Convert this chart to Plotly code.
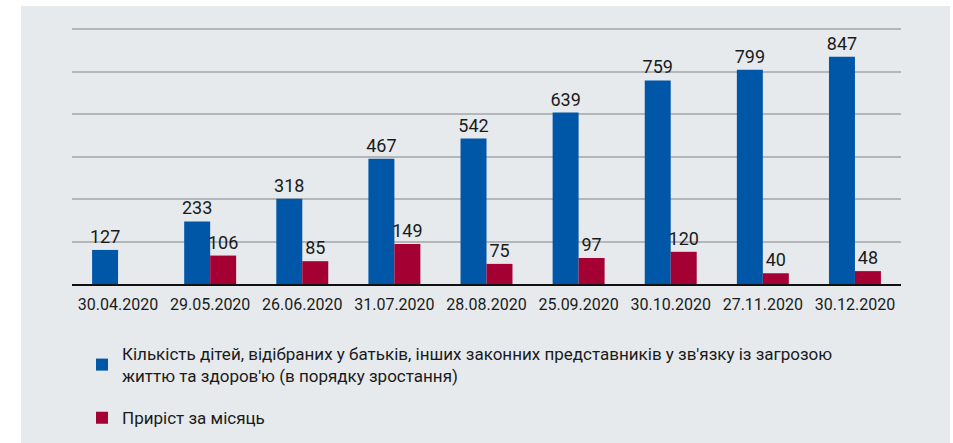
import plotly.graph_objects as go

categories = ["30.04.2020", "29.05.2020", "26.06.2020", "31.07.2020", "28.08.2020",
              "25.09.2020", "30.10.2020", "27.11.2020", "30.12.2020"]
total_children = [127, 233, 318, 467, 542, 639, 759, 799, 847]
monthly_growth = [None, 106, 85, 149, 75, 97, 120, 40, 48]

name_total = "Кількість дітей, відібраних у батьків, інших законних представників у зв'язку із загрозою<br>життю та здоров'ю (в порядку зростання)"
name_growth = "Приріст за місяць"

FONT = "Roboto, Noto Sans, sans-serif"
BLUE = "#0057a8"
RED = "#a50034"

W, H = 953, 443
ML, MR, MT, MB = 72, 52, 27, 159
PW = W - ML - MR
PH = H - MT - MB

def px_x(p):
    return (p - ML) / PW

def px_y(p):
    return (H - MB - p) / PH

fig = go.Figure()
fig.add_trace(go.Bar(
    x=categories, y=total_children, name=name_total, marker_color=BLUE,
    marker_line_width=0,
    text=[str(v) for v in total_children], textposition="outside",
    textfont=dict(family=FONT, size=18, color="#1a1a1a"),
    constraintext="none", cliponaxis=False, legendgroup="a",
))
fig.add_trace(go.Bar(
    x=categories, y=monthly_growth, name=name_growth, marker_color=RED,
    marker_line_width=0,
    text=[("" if v is None else str(v)) for v in monthly_growth], textposition="outside",
    textfont=dict(family=FONT, size=18, color="#1a1a1a"),
    constraintext="none", cliponaxis=False, legendgroup="b",
))

ymax = 950
fig.update_layout(
    width=W, height=H,
    margin=dict(l=ML, r=MR, t=MT, b=MB, pad=0, autoexpand=False),
    barmode="group", bargap=0.436, bargroupgap=0,
    paper_bgcolor="white", plot_bgcolor="rgba(0,0,0,0)",
    font=dict(family=FONT, size=17, color="#1a1a1a"),
    showlegend=True,
    legend=dict(
        x=px_x(82), y=px_y(336), xanchor="left", yanchor="top",
        bgcolor="rgba(0,0,0,0)", traceorder="grouped", tracegroupgap=17,
        font=dict(family=FONT, size=17, color="#1a1a1a"),
        itemwidth=30,
    ),
    xaxis=dict(
        showline=True, linecolor="#111111", linewidth=1.5,
        showgrid=False, ticks="", tickangle=0, ticklabelstandoff=5,
        tickfont=dict(family=FONT, size=16, color="#1a1a1a"),
        fixedrange=True,
    ),
    yaxis=dict(
        range=[0, ymax + 8], tickvals=[round(ymax * i / 6, 3) for i in range(1, 7)],
        showticklabels=False, showgrid=True, gridcolor="#b4b7ba", gridwidth=1.5,
        zeroline=False, fixedrange=True,
    ),
    shapes=[dict(
        type="rect", xref="paper", yref="paper", layer="below",
        x0=px_x(21), x1=px_x(950), y0=px_y(443), y1=px_y(6),
        fillcolor="#e6eaed", line_width=0,
    )],
)

fig.write_html("out.html", config={"displayModeBar": False},
               post_script="document.body.style.margin='0';")
